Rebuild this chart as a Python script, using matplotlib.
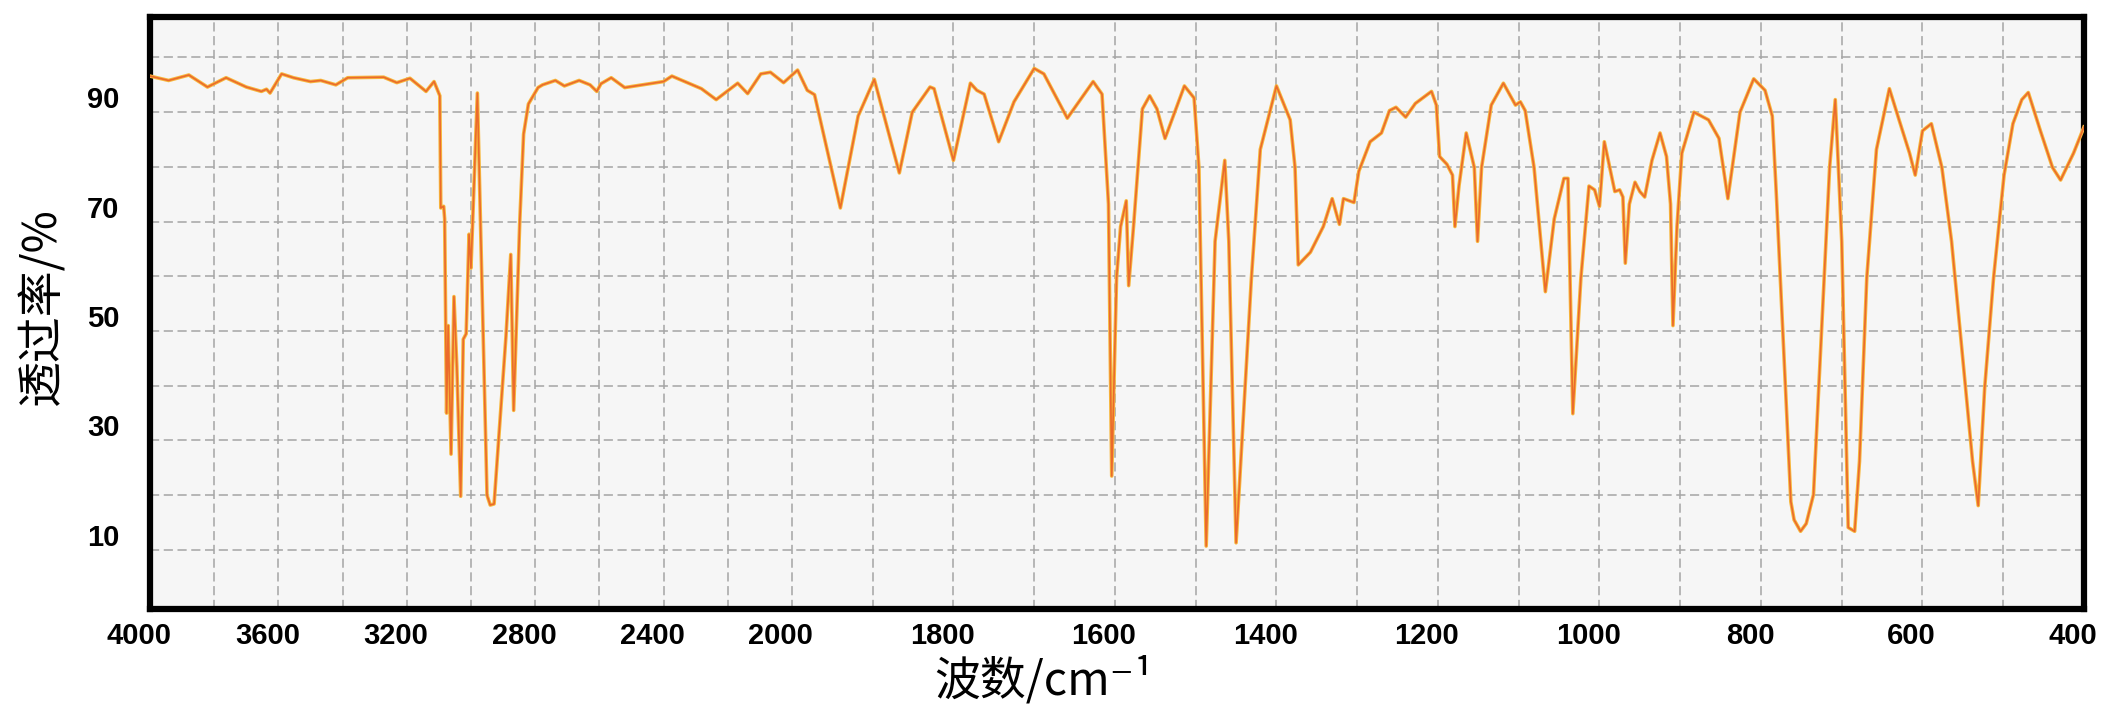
import numpy as np
import matplotlib.pyplot as plt
from matplotlib.transforms import ScaledTranslation

# IR spectrum
wavenumber = [4000, 3942, 3879, 3821, 3763, 3700, 3653, 3637, 3626, 3590, 3553, 3500, 3468, 3421,
              3384, 3272, 3231, 3190, 3140, 3115, 3097, 3094, 3085, 3082, 3076, 3071, 3062, 3053,
              3044, 3032, 3024, 3015, 3006, 3000, 2980, 2950, 2940, 2928, 2891, 2876, 2867, 2848,
              2836, 2821, 2791, 2777, 2737, 2709, 2663, 2629, 2608, 2595, 2563, 2521, 2400, 2374,
              2282, 2236, 2169, 2138, 2097, 2067, 2026, 1993, 1981, 1972, 1940, 1918, 1898, 1867,
              1851, 1829, 1824, 1800, 1779, 1771, 1762, 1744, 1725, 1700, 1688, 1659, 1627, 1616,
              1608, 1604, 1598, 1593, 1586, 1583, 1577, 1566, 1557, 1548, 1538, 1514, 1502, 1496,
              1487, 1476, 1464, 1459, 1450, 1431, 1420, 1400, 1383, 1377, 1373, 1358, 1342, 1331,
              1322, 1317, 1304, 1298, 1284, 1270, 1260, 1252, 1240, 1228, 1208, 1202, 1198, 1189,
              1182, 1179, 1174, 1165, 1155, 1151, 1146, 1134, 1119, 1104, 1098, 1092, 1081, 1067,
              1056, 1044, 1039, 1033, 1023, 1013, 1006, 1000, 994, 981, 975, 971, 968, 963,
              956, 950, 944, 935, 925, 917, 912, 909, 904, 898, 883, 865, 852, 841,
              826, 809, 795, 786, 781, 774, 763, 759, 751, 744, 735, 724, 715, 708,
              700, 692, 684, 678, 669, 657, 641, 629, 616, 609, 600, 589, 576, 564,
              551, 538, 531, 523, 512, 499, 488, 477, 469, 454, 439, 429, 413, 400]
transmittance = [96.6, 95.8, 96.8, 94.6, 96.3, 94.6, 93.8, 94.2, 93.5, 97.0, 96.3, 95.6, 95.8, 95.0,
                 96.3, 96.4, 95.4, 96.2, 93.8, 95.6, 93.0, 72.5, 72.8, 70.5, 35.0, 51.0, 27.5, 56.3,
                 43.5, 19.8, 48.5, 49.5, 67.7, 61.5, 93.5, 20.0, 18.2, 18.4, 49.0, 64.0, 35.5, 70.0,
                 86.0, 91.5, 94.5, 95.0, 95.8, 94.8, 95.8, 95.0, 93.8, 95.2, 96.3, 94.5, 95.6, 96.6,
                 94.3, 92.3, 95.3, 93.4, 97.0, 97.3, 95.4, 97.7, 94.0, 93.2, 72.5, 89.3, 96.0, 78.9,
                 90.0, 94.6, 94.3, 81.2, 95.3, 94.0, 93.3, 84.6, 91.9, 98.0, 97.0, 88.9, 95.6, 93.3,
                 73.2, 23.5, 59.7, 69.1, 73.8, 58.3, 69.1, 90.6, 93.0, 90.6, 85.2, 94.8, 92.6, 79.9,
                 10.7, 66.4, 81.2, 66.4, 11.3, 59.7, 83.2, 94.8, 88.6, 79.9, 62.1, 64.4, 69.1, 74.2,
                 69.5, 74.2, 73.5, 79.2, 84.6, 86.2, 90.3, 90.9, 89.1, 91.6, 93.8, 91.3, 81.9, 80.5,
                 78.5, 69.1, 76.5, 86.2, 79.9, 66.4, 79.9, 91.3, 95.3, 91.3, 91.9, 90.3, 79.9, 57.2,
                 70.5, 77.9, 77.9, 34.9, 59.7, 76.5, 75.8, 72.8, 84.6, 75.5, 75.8, 74.5, 62.4, 73.2,
                 77.2, 75.5, 74.5, 81.2, 86.2, 81.9, 73.2, 51.0, 69.1, 82.5, 90.0, 88.6, 85.2, 74.2,
                 90.0, 96.1, 94.0, 89.3, 75.0, 53.2, 18.8, 15.5, 13.4, 14.8, 20.1, 53.2, 79.9, 92.3,
                 66.4, 14.1, 13.4, 26.2, 59.7, 83.2, 94.3, 88.6, 82.5, 78.5, 86.6, 87.9, 79.9, 66.4,
                 46.3, 26.2, 18.1, 39.6, 59.7, 78.5, 87.9, 92.3, 93.6, 86.6, 79.9, 77.6, 82.5, 87.3]

x_labels = [4000, 3600, 3200, 2800, 2400, 2000, 1800, 1600, 1400, 1200, 1000, 800, 600, 400]
x_grid = [3800, 3400, 3000, 2600, 2200, 1900, 1700, 1500, 1300, 1100, 900, 700, 500]
y_labels = [10, 30, 50, 70, 90]
y_grid = [20, 40, 60, 80, 100]

STRETCH = 2.516  # scale below 2000 cm-1 is expanded


def forward(x):
    x = np.asarray(x, dtype=float)
    return np.where(x >= 2000, x, 2000 - (2000 - x) * STRETCH)


def inverse(u):
    u = np.asarray(u, dtype=float)
    return np.where(u >= 2000, u, 2000 - (2000 - u) / STRETCH)


cjk = ['Noto Sans CJK SC', 'DejaVu Sans']

fig = plt.figure(figsize=(21.05, 7.07), dpi=100)
ax = fig.add_axes([150 / 2105, 1 - 609 / 707, 1934 / 2105, 592 / 707])
ax.set_facecolor('#f6f6f6')
ax.set_xscale('function', functions=(forward, inverse))

ax.plot(wavenumber, transmittance, color='#f7b83e', lw=2.6, solid_joinstyle='round', zorder=3)
ax.plot(wavenumber, transmittance, color='#eb6a2c', lw=1.2, solid_joinstyle='round', zorder=4)

ax.set_xlim(4000, 400)
ax.set_ylim(-0.8, 107.4)
ax.set_xticks(x_labels)
ax.set_xticklabels([str(v) for v in x_labels])
ax.set_xticks(x_grid, minor=True)
ax.set_yticks(y_labels)
ax.set_yticks(y_grid, minor=True)
ax.set_axisbelow(True)
ax.grid(which='both', color='#a5a5a5', linestyle=(0, (6, 3)), linewidth=1.1)
ax.tick_params(which='both', length=0)
ax.tick_params(axis='x', pad=9)
ax.tick_params(axis='y', pad=22)
for lab in ax.get_xticklabels() + ax.get_yticklabels():
    lab.set_fontfamily('Liberation Sans')
    lab.set_fontweight('bold')
    lab.set_fontsize(21)
for s in ax.spines.values():
    s.set_linewidth(4.5)
    s.set_color('black')

fig.text(42 / 2105, 1 - 306 / 707, '透过率/%', rotation=90, ha='center', va='center',
         fontsize=33, family=cjk)
fig.text(1044 / 2105, 1 - 682 / 707, '波数/cm⁻¹', ha='center', va='center',
         fontsize=33, family=cjk)

# labels in the scan sit a little left / above their grid lines
fig.canvas.draw()
for lab in ax.get_xticklabels():
    lab.set_transform(lab.get_transform() + ScaledTranslation(-0.11, 0, fig.dpi_scale_trans))
for lab in ax.get_yticklabels():
    lab.set_transform(lab.get_transform() + ScaledTranslation(0, 0.15, fig.dpi_scale_trans))

fig.savefig('out.png', dpi=100)
